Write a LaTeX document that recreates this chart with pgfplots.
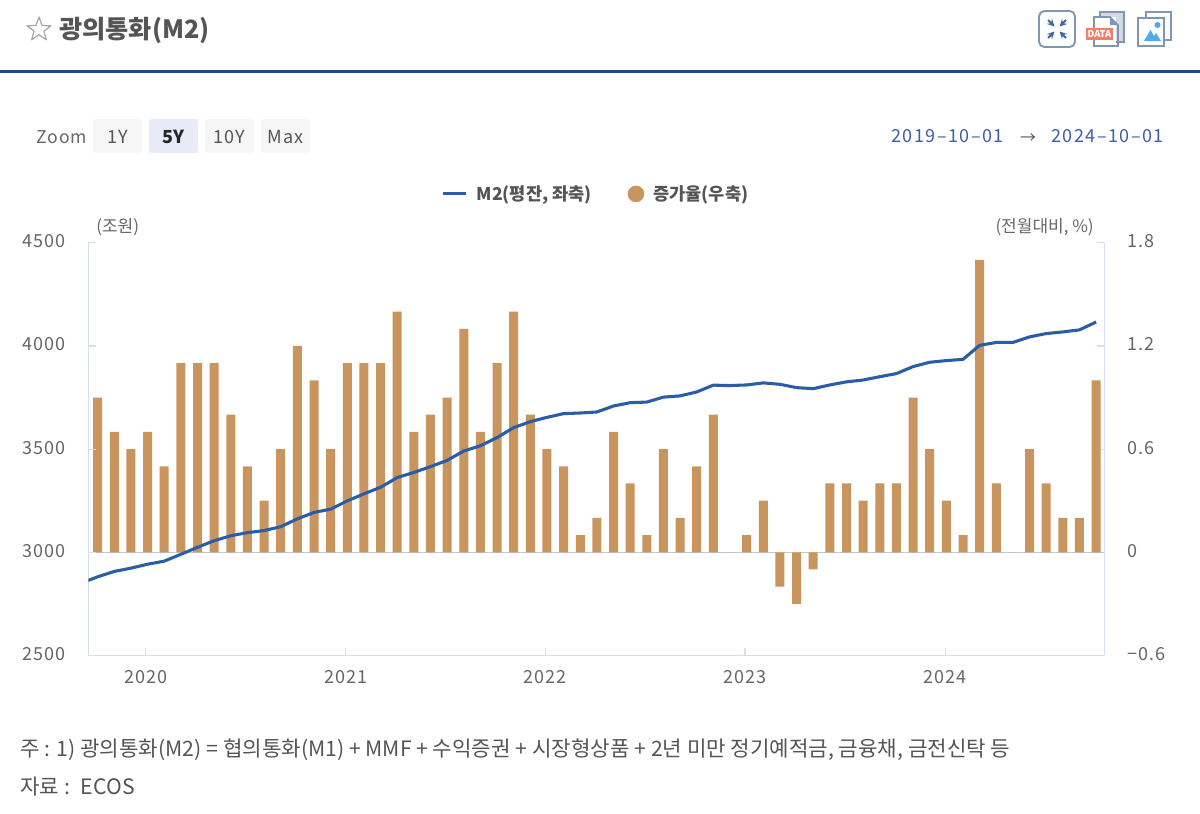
\documentclass[border=0pt]{standalone}
\usepackage{fontspec}
\setmainfont{Noto Sans CJK KR}
\newfontfamily\tickfont[LetterSpace=6]{Noto Sans CJK KR}
\newfontfamily\datefont[LetterSpace=8]{Noto Sans CJK KR}
\usepackage{pgfplots}
\usepackage{pgfplotstable}
\pgfplotsset{compat=1.18}
\definecolor{axiscol}{HTML}{D6DEF2}
\definecolor{barcol}{HTML}{C8955F}
\definecolor{linecol}{HTML}{2B5CA8}
\definecolor{txtcol}{HTML}{666666}
\definecolor{darkt}{HTML}{555555}
\definecolor{hdr}{HTML}{1F4A8C}
\definecolor{datecol}{HTML}{3F5CAB}
\definecolor{btn}{HTML}{F6F6F7}
\definecolor{btnsel}{HTML}{E6EBF5}
\definecolor{iconcol}{HTML}{7F97B5}
\definecolor{datared}{HTML}{F0806A}
\definecolor{picblue}{HTML}{55A8EE}
\newcommand{\fs}[1]{\fontsize{#1}{#1}\selectfont}
\pgfplotstableread{
i val
0 0.9
1 0.7
2 0.6
3 0.7
4 0.5
5 1.1
6 1.1
7 1.1
8 0.8
9 0.5
10 0.3
11 0.6
12 1.2
13 1.0
14 0.6
15 1.1
16 1.1
17 1.1
18 1.4
19 0.7
20 0.8
21 0.9
22 1.3
23 0.7
24 1.1
25 1.4
26 0.8
27 0.6
28 0.5
29 0.1
30 0.2
31 0.7
32 0.4
33 0.1
34 0.6
35 0.2
36 0.5
37 0.8
38 0
39 0.1
40 0.3
41 -0.2
42 -0.3
43 -0.1
44 0.4
45 0.4
46 0.3
47 0.4
48 0.4
49 0.9
50 0.6
51 0.3
52 0.1
53 1.7
54 0.4
55 0
56 0.6
57 0.4
58 0.2
59 0.2
60 1.0
}\ratetable
\pgfplotstableread{
i val
-1 2850
0 2881
1 2907
2 2923
3 2942
4 2957
5 2990
6 3024
7 3056
8 3080
9 3095
10 3105
11 3124
12 3162
13 3193
14 3209
15 3249
16 3283
17 3315
18 3362
19 3387
20 3415
21 3445
22 3491
23 3516
24 3556
25 3604
26 3633
27 3654
28 3672
29 3675
30 3680
31 3709
32 3725
33 3728
34 3752
35 3758
36 3777
37 3810
38 3808
39 3811
40 3821
41 3814
42 3798
43 3793
44 3811
45 3826
46 3835
47 3851
48 3866
49 3900
50 3921
51 3929
52 3935
53 4003
54 4017
55 4017
56 4044
57 4060
58 4068
59 4078
60 4116
}\mtwotable
\pgfplotsset{common/.style={
  scale only axis, width=762pt, height=309.45pt,
  at={(66.2pt,-491.55pt)}, anchor=south west,
  xmin=-0.565, xmax=60.49,
  axis line style={color=axiscol, line width=0.9pt},
  tick style={color=axiscol, line width=0.9pt},
  tick align=inside, major tick length=5.6pt,
  ticklabel style={text=txtcol, font=\tickfont\fs{13.5pt}},
}}
\begin{document}
\begin{tikzpicture}[x=0.75pt,y=-0.75pt]
\path[use as bounding box, fill=white] (0,0) rectangle (1200,814);
% header
\draw[hdr, line width=2.6pt] (0,71.5) -- (1200,71.5);
\draw[color=black!35, line width=0.9pt, line join=round]
  (39,17) -- (42.0,25.5) -- (51,25.8) -- (43.9,31.2) -- (46.4,39.8) -- (39,34.7) -- (31.6,39.8) -- (34.1,31.2) -- (27,25.8) -- (36.0,25.5) -- cycle;
\node[anchor=west, inner sep=0, text=darkt, font=\fs{18.9pt}\bfseries] at (59,30) {광의통화(M2)};
% top icons
\draw[iconcol, line width=1.4pt, rounded corners=4pt] (1039,11) rectangle (1075,47);
\foreach \sx/\sy in {1/1,-1/1,1/-1,-1/-1}{
  \draw[hdr!85, line width=1.4pt, -stealth] (1057+\sx*9,29+\sy*9) -- (1057+\sx*2.5,29+\sy*2.5);
}
\fill[iconcol!35] (1100,12) rectangle (1124,42);
\draw[iconcol, line width=1.2pt] (1100,12) rectangle (1124,42);
\fill[white] (1093,17) rectangle (1116,46);
\draw[iconcol, line width=1.2pt] (1094,17) -- (1110,17) -- (1118,25) -- (1118,46) -- (1094,46) -- cycle;
\fill[iconcol] (1110,17) -- (1118,25) -- (1110,25) -- cycle;
\fill[datared] (1086,28) rectangle (1113,40);
\node[text=white, inner sep=0, font=\fs{7pt}\bfseries] at (1099.5,34) {DATA};
\draw[iconcol, line width=1.2pt] (1146,12) rectangle (1171,40);
\fill[white] (1138,18) rectangle (1164,46);
\draw[iconcol, line width=1.2pt] (1138,18) rectangle (1164,46);
\fill[picblue] (1157.5,25) circle (3);
\fill[picblue] (1144,41) -- (1150.5,30) -- (1154,36) -- (1156,33) -- (1161,41) -- cycle;
% zoom row
\node[anchor=west, inner sep=0, text=txtcol, font=\tickfont\fs{13.2pt}] at (36,137) {Zoom};
\fill[btn, rounded corners=2pt] (93,119) rectangle (142,153);
\fill[btnsel, rounded corners=2pt] (149,119) rectangle (198,153);
\fill[btn, rounded corners=2pt] (205,119) rectangle (254,153);
\fill[btn, rounded corners=2pt] (261,119) rectangle (310,153);
\node[text=darkt, inner sep=0, font=\tickfont\fs{13.5pt}] at (117.5,137) {1Y};
\node[text=black!85, inner sep=0, font=\fs{13.5pt}\bfseries] at (173.5,137) {5Y};
\node[text=darkt, inner sep=0, font=\tickfont\fs{13.5pt}] at (229.5,137) {10Y};
\node[text=darkt, inner sep=0, font=\tickfont\fs{13.5pt}] at (285.5,137) {Max};
\node[anchor=east, inner sep=0, text=datecol, font=\datefont\fs{13.5pt}] at (1004,136) {2019–10–01};
\node[anchor=center, inner sep=0, text=darkt, font=\fs{12pt}] at (1028,138.5) {→};
\node[anchor=east, inner sep=0, text=datecol, font=\datefont\fs{13.5pt}] at (1164,136) {2024–10–01};
% units
\node[anchor=west, inner sep=0, text=txtcol, font=\fs{12.75pt}] at (96,227) {(조원)};
\node[anchor=east, inner sep=0, text=txtcol, font=\fs{12.75pt}] at (1094,227) {(전월대비, \%)};
% right axis: bars
\begin{axis}[common,
  axis x line=none, axis y line*=right,
  ymin=-0.6, ymax=1.8,
  ytick={-0.6,0,0.6,1.2,1.8},
  yticklabels={−0.6,0,0.6,1.2,1.8},
  yticklabel style={anchor=west, xshift=13.7pt, yshift=1.1pt},
]
\addplot[color=black!22, line width=1pt, forget plot] coordinates {(-0.565,0) (60.49,0)};
\addplot[ybar, bar width=6.75pt, bar shift=0pt, fill=barcol, draw=none] table[x=i, y=val] {\ratetable};
\end{axis}
% left axis: line
\begin{axis}[common,
  axis x line*=bottom, axis y line*=left,
  ymin=2500, ymax=4500,
  ytick={2500,3000,3500,4000,4500},
  yticklabels={2500,3000,3500,4000,4500},
  xtick={2.885,14.9,26.9,38.9,50.94},
  xticklabels={2020,2021,2022,2023,2024},
  yticklabel style={anchor=east, xshift=-13.7pt, yshift=1.1pt},
  xticklabel style={anchor=north, yshift=-8pt},
  clip=true,
  legend style={at={(0.5,1.1185)}, anchor=center, draw=none, fill=none,
    legend columns=2, font=\fs{13.2pt}\bfseries, text=darkt,
    /tikz/every even column/.append style={column sep=25pt},
    /tikz/every odd column/.append style={column sep=5pt}},
  legend cell align=left,
]
\addplot[color=linecol, line width=2.3pt, line join=round] table[x=i, y=val] {\mtwotable};
\addlegendentry{M2(평잔, 좌축)}
\addlegendimage{only marks, mark=*, mark size=6pt, mark options={fill=barcol, draw=barcol}}
\addlegendentry{증가율(우축)}
\end{axis}
% footer
\node[anchor=west, inner sep=0, text=darkt, font=\fs{15.9pt}] at (20,750) {주 : 1) 광의통화(M2) = 협의통화(M1) + MMF + 수익증권 + 시장형상품 + 2년 미만 정기예적금, 금융채, 금전신탁 등};
\node[anchor=west, inner sep=0, text=darkt, font=\fs{15.9pt}] at (20,787) {자료 :~ ECOS};
\end{tikzpicture}
\end{document}
